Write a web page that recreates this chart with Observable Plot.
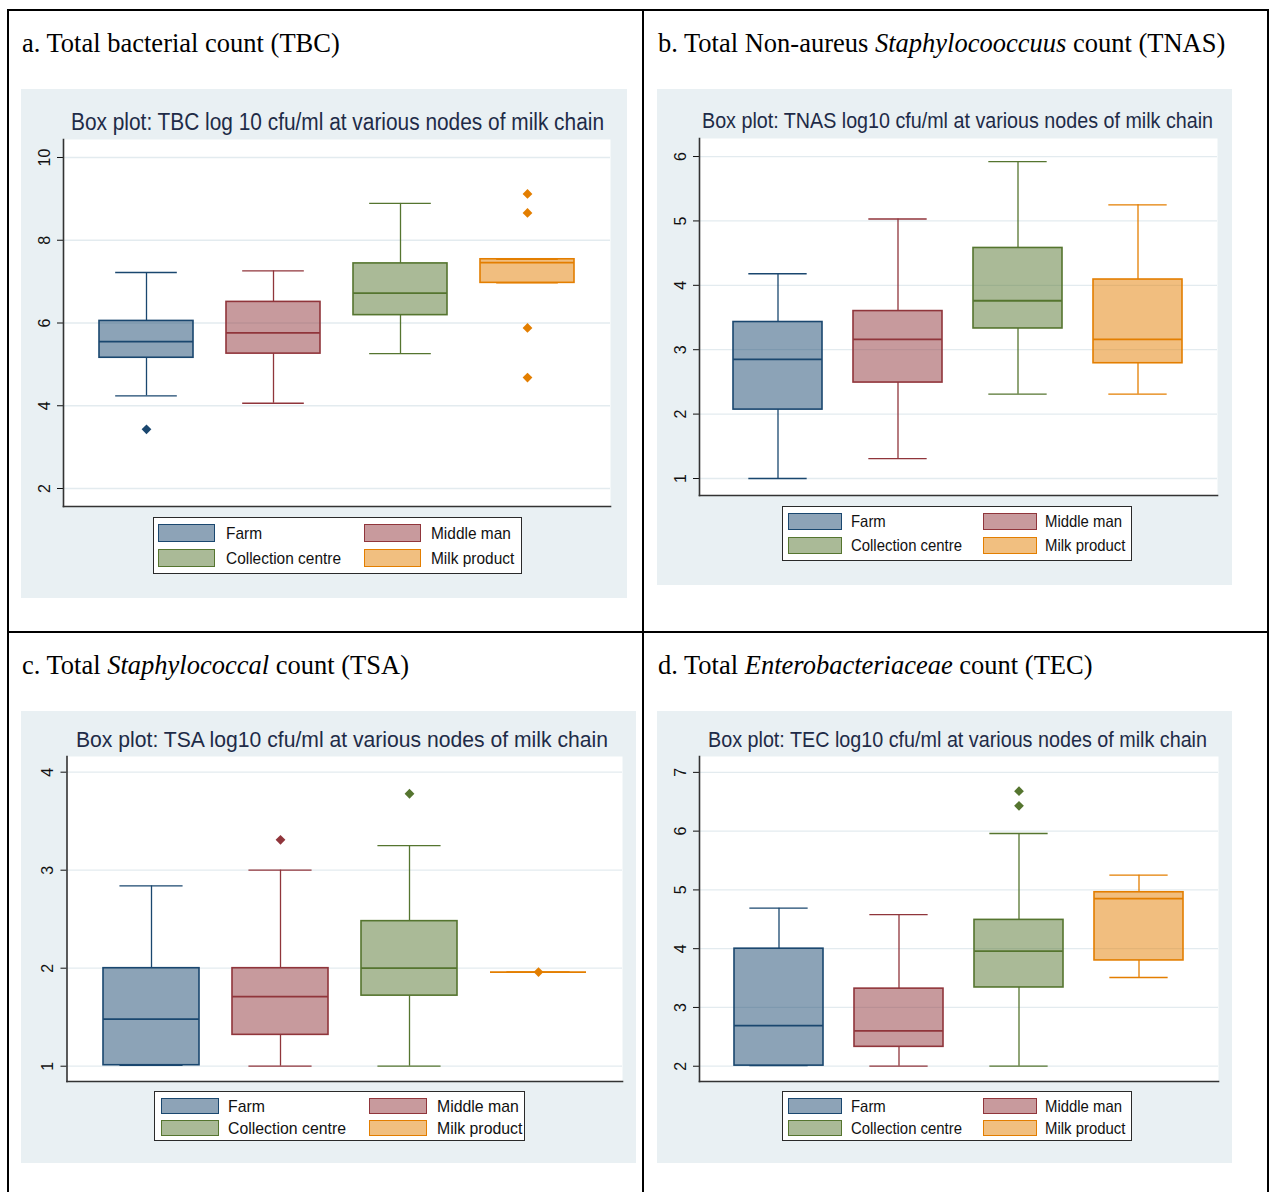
<!DOCTYPE html>
<html>
<head>
<meta charset="utf-8">
<script src="https://cdn.jsdelivr.net/npm/d3@7"></script>
<script src="https://cdn.jsdelivr.net/npm/@observablehq/plot@0.6"></script>
<style>
  html, body { margin: 0; padding: 0; }
  body { width: 1274px; height: 1192px; position: relative; overflow: hidden; background: #fff; }
  .abs { position: absolute; }
  .heading { font-family: "Liberation Serif", "Times New Roman", serif; font-size: 26.5px; line-height: 1; color: #000; white-space: nowrap; }
  .panel { background: #e9f0f3; }
  .ctitle { font-family: "Liberation Sans Narrow", "Arial Narrow", "Liberation Sans", Arial, sans-serif; line-height: 1; color: #1e2b47; white-space: nowrap; display: inline-block; transform-origin: left center; }
  .legend { background: #fff; border: 1.5px solid #2a2a2a; box-sizing: border-box; }
  .sw { box-sizing: border-box; border: 1.5px solid; }
  .lab { font-family: "Liberation Sans Narrow", "Arial Narrow", "Liberation Sans", Arial, sans-serif; line-height: 1; color: #111; white-space: nowrap; transform-origin: left center; }
  .line { background: #000; }
</style>
</head>
<body>
<script>
// ---------- data ----------
const groups = ["Farm", "Middle man", "Collection centre", "Milk product"];
const groupColors = ["#1a476f", "#90353b", "#55752f", "#e37e00"];

// a. Total bacterial count (TBC), log10 cfu/ml
const tbcLow  = [4.24, 4.06, 5.26, 6.97];
const tbcQ1   = [5.16, 5.26, 6.19, 6.97];
const tbcMed  = [5.55, 5.76, 6.72, 7.46];
const tbcQ3   = [6.05, 6.51, 7.44, 7.54];
const tbcHigh = [7.22, 7.26, 8.89, 7.54];
const tbcOutGroup = ["Farm", "Milk product", "Milk product", "Milk product", "Milk product"];
const tbcOutValue = [3.43, 9.12, 8.66, 5.88, 4.68];
const tbcTicks = [2, 4, 6, 8, 10];

// b. Total Non-aureus Staphylococcus count (TNAS)
const tnasLow  = [1.00, 1.31, 2.31, 2.31];
const tnasQ1   = [2.07, 2.49, 3.33, 2.79];
const tnasMed  = [2.85, 3.16, 3.76, 3.16];
const tnasQ3   = [3.43, 3.60, 4.58, 4.09];
const tnasHigh = [4.18, 5.03, 5.92, 5.25];
const tnasOutGroup = [];
const tnasOutValue = [];
const tnasTicks = [1, 2, 3, 4, 5, 6];

// c. Total Staphylococcal count (TSA)
const tsaLow  = [1.01, 1.00, 1.00, 1.96];
const tsaQ1   = [1.01, 1.32, 1.72, 1.96];
const tsaMed  = [1.48, 1.71, 2.00, 1.96];
const tsaQ3   = [2.00, 2.00, 2.48, 1.96];
const tsaHigh = [2.84, 3.00, 3.25, 1.96];
const tsaOutGroup = ["Middle man", "Collection centre", "Milk product"];
const tsaOutValue = [3.31, 3.78, 1.96];
const tsaTicks = [1, 2, 3, 4];

// d. Total Enterobacteriaceae count (TEC)
const tecLow  = [2.01, 2.00, 2.00, 3.51];
const tecQ1   = [2.01, 2.33, 3.34, 3.80];
const tecMed  = [2.69, 2.60, 3.96, 4.85];
const tecQ3   = [4.00, 3.32, 4.49, 4.96];
const tecHigh = [4.69, 4.58, 5.96, 5.25];
const tecOutGroup = ["Collection centre", "Collection centre"];
const tecOutValue = [6.68, 6.43];
const tecTicks = [2, 3, 4, 5, 6, 7];

// ---------- layout ----------
const SANS = '"Liberation Sans Narrow", "Arial Narrow", "Liberation Sans", Arial, sans-serif';
const GRID = "#e3ebef";

const panels = [
  { heading: "a. Total bacterial count (TBC)", headLeft: 22, headBase: 52,
    box: {l: 21, t: 89, w: 606, h: 509}, plot: {l: 63, t: 139, r: 610, b: 506},
    title: "Box plot: TBC log 10 cfu/ml at various nodes of milk chain", titleL: 71, titleW: 533, titleBase: 130, titleSize: 23,
    leg: {l: 153, t: 517, w: 369, h: 57, c1: 158, c2: 364, sw: 57, tx1: 226, tx2: 431, rows: [524, 549], swh: 18, fs: 17, ccW: 115},
    st: {low: tbcLow, q1: tbcQ1, med: tbcMed, q3: tbcQ3, high: tbcHigh, outGroup: tbcOutGroup, outValue: tbcOutValue, ticks: tbcTicks, domain: [1.565, 10.435]} },
  { heading: "b. Total Non-aureus <i>Staphylocooccuus</i> count (TNAS)", headLeft: 658, headBase: 52,
    box: {l: 657, t: 89, w: 575, h: 496}, plot: {l: 699, t: 138, r: 1217, b: 495},
    title: "Box plot: TNAS log10 cfu/ml at various nodes of milk chain", titleL: 702, titleW: 511, titleBase: 129, titleSize: 22,
    leg: {l: 782, t: 506, w: 350, h: 55, c1: 788, c2: 983, sw: 54, tx1: 851, tx2: 1045, rows: [513, 537], swh: 17, fs: 16.5, ccW: 111},
    st: {low: tnasLow, q1: tnasQ1, med: tnasMed, q3: tnasQ3, high: tnasHigh, outGroup: tnasOutGroup, outValue: tnasOutValue, ticks: tnasTicks, domain: [0.736, 6.28]} },
  { heading: "c. Total <i>Staphylococcal</i> count (TSA)", headLeft: 22, headBase: 674,
    box: {l: 21, t: 711, w: 615, h: 452}, plot: {l: 66.5, t: 756, r: 622, b: 1081},
    title: "Box plot: TSA log10 cfu/ml at various nodes of milk chain", titleL: 76, titleW: 532, titleBase: 748, titleSize: 22,
    leg: {l: 154, t: 1091, w: 371, h: 50, c1: 161, c2: 369, sw: 58, tx1: 228, tx2: 437, rows: [1098, 1120], swh: 16, fs: 17, ccW: 118},
    st: {low: tsaLow, q1: tsaQ1, med: tsaMed, q3: tsaQ3, high: tsaHigh, outGroup: tsaOutGroup, outValue: tsaOutValue, ticks: tsaTicks, domain: [0.844, 4.16]} },
  { heading: "d. Total <i>Enterobacteriaceae</i> count (TEC)", headLeft: 658, headBase: 674,
    box: {l: 657, t: 711, w: 575, h: 452}, plot: {l: 699, t: 756, r: 1218, b: 1081},
    title: "Box plot: TEC log10 cfu/ml at various nodes of milk chain", titleL: 708, titleW: 499, titleBase: 748, titleSize: 22,
    leg: {l: 782, t: 1091, w: 350, h: 50, c1: 788, c2: 983, sw: 54, tx1: 851, tx2: 1045, rows: [1098, 1120], swh: 16, fs: 16.5, ccW: 111},
    st: {low: tecLow, q1: tecQ1, med: tecMed, q3: tecQ3, high: tecHigh, outGroup: tecOutGroup, outValue: tecOutValue, ticks: tecTicks, domain: [1.74, 7.27]} }
];

function div(cls, css, html) {
  const d = document.createElement("div");
  d.className = cls;
  Object.assign(d.style, css);
  if (html !== undefined) d.innerHTML = html;
  document.body.appendChild(d);
  return d;
}

// table lines
div("abs line", {left: "7px", top: "9px", width: "1262px", height: "2px"});
div("abs line", {left: "7px", top: "9px", width: "2px", height: "1200px"});
div("abs line", {left: "1267px", top: "9px", width: "2px", height: "1200px"});
div("abs line", {left: "642px", top: "9px", width: "2px", height: "1200px"});
div("abs line", {left: "7px", top: "631px", width: "1262px", height: "2px"});

function makePlot(p) {
  const st = p.st;
  const mt = 1, mb = 2;
  const W = p.box.w;
  const H = (p.plot.b - p.plot.t) + mt + mb;
  const ml = p.plot.l - p.box.l;
  const mr = p.box.l + p.box.w - p.plot.r;
  const plotW = p.plot.r - p.plot.l;
  const pi = 0.256, po = 0.275;
  const step = plotW / (groups.length - pi + 2 * po);
  const capInset = 0.127 * step;
  const rows = groups.map((g, i) => ({group: g, low: st.low[i], q1: st.q1[i], med: st.med[i], q3: st.q3[i], high: st.high[i]}));
  const outs = st.outGroup.map((g, i) => ({group: g, value: st.outValue[i]}));
  const svg = Plot.plot({
    width: W, height: H,
    marginLeft: ml, marginRight: mr, marginTop: mt, marginBottom: mb,
    style: {background: "transparent", overflow: "visible", fontFamily: SANS, fontSize: "16px", color: "#111"},
    x: {domain: groups, paddingInner: pi, paddingOuter: po, axis: null},
    y: {domain: st.domain},
    color: {domain: groups, range: groupColors},
    marks: [
      Plot.frame({fill: "white", stroke: "none"}),
      Plot.gridY(st.ticks, {stroke: GRID, strokeOpacity: 1, strokeWidth: 1.3}),
      Plot.ruleX(rows, {x: "group", y1: "q3", y2: "high", stroke: "group", strokeWidth: 1.3}),
      Plot.ruleX(rows, {x: "group", y1: "low", y2: "q1", stroke: "group", strokeWidth: 1.3}),
      Plot.tickY(rows, {x: "group", y: "high", stroke: "group", strokeWidth: 1.3, inset: capInset}),
      Plot.tickY(rows, {x: "group", y: "low", stroke: "group", strokeWidth: 1.3, inset: capInset}),
      Plot.barY(rows, {x: "group", y1: "q1", y2: "q3", fill: "group", fillOpacity: 0.5, stroke: "group", strokeWidth: 1.6}),
      Plot.tickY(rows, {x: "group", y: "med", stroke: "group", strokeWidth: 1.8}),
      Plot.dot(outs, {x: "group", y: "value", fill: "group", symbol: "diamond2", r: 4.4}),
      Plot.axisY(st.ticks, {tickSize: 6, tickPadding: 8, tickRotate: -90, textAnchor: "middle", lineAnchor: "bottom", fontSize: 16, tickFormat: d3.format("d")}),
      Plot.frame({anchor: "left", strokeWidth: 1.6, stroke: "#333"}),
      Plot.frame({anchor: "bottom", strokeWidth: 1.6, stroke: "#333"})
    ]
  });
  svg.style.position = "absolute";
  svg.style.left = p.box.l + "px";
  svg.style.top = (p.plot.t - mt) + "px";
  document.body.appendChild(svg);
}

for (const p of panels) {
  // cell heading
  div("abs heading", {left: p.headLeft + "px", top: (p.headBase - 0.838 * 26.5) + "px"}, p.heading);
  // panel background
  div("abs panel", {left: p.box.l + "px", top: p.box.t + "px", width: p.box.w + "px", height: p.box.h + "px"});
  // chart title
  const tw = div("abs", {left: p.titleL + "px", top: (p.titleBase - 0.8465 * p.titleSize) + "px"});
  const ts = document.createElement("span");
  ts.className = "ctitle";
  ts.style.fontSize = p.titleSize + "px";
  ts.textContent = p.title;
  tw.appendChild(ts);
  const w0 = ts.getBoundingClientRect().width;
  ts.style.transform = `scaleX(${p.titleW / w0})`;
  // plot
  makePlot(p);
  // legend
  const L = p.leg;
  div("abs legend", {left: L.l + "px", top: L.t + "px", width: L.w + "px", height: L.h + "px"});
  const order = [[0, 1], [2, 3]];
  const labs = [];
  order.forEach((pair, r) => {
    pair.forEach((gi, c) => {
      const x = c === 0 ? L.c1 : L.c2;
      const tx = c === 0 ? L.tx1 : L.tx2;
      const y = L.rows[r];
      const col = d3.color(groupColors[gi]);
      const fill = d3.interpolateRgb(groupColors[gi], "#ffffff")(0.5);
      div("abs sw", {left: x + "px", top: y + "px", width: L.sw + "px", height: L.swh + "px", background: fill, borderColor: col.formatHex()});
      const lab = div("abs lab", {left: tx + "px", top: (y + L.swh / 2 - L.fs / 2) + "px", fontSize: L.fs + "px"});
      lab.textContent = groups[gi];
      labs.push(lab);
    });
  });
  const cc = labs[2];
  const k = L.ccW / cc.getBoundingClientRect().width;
  labs.forEach(l => l.style.transform = `scaleX(${k})`);
}
</script>
</body>
</html>
